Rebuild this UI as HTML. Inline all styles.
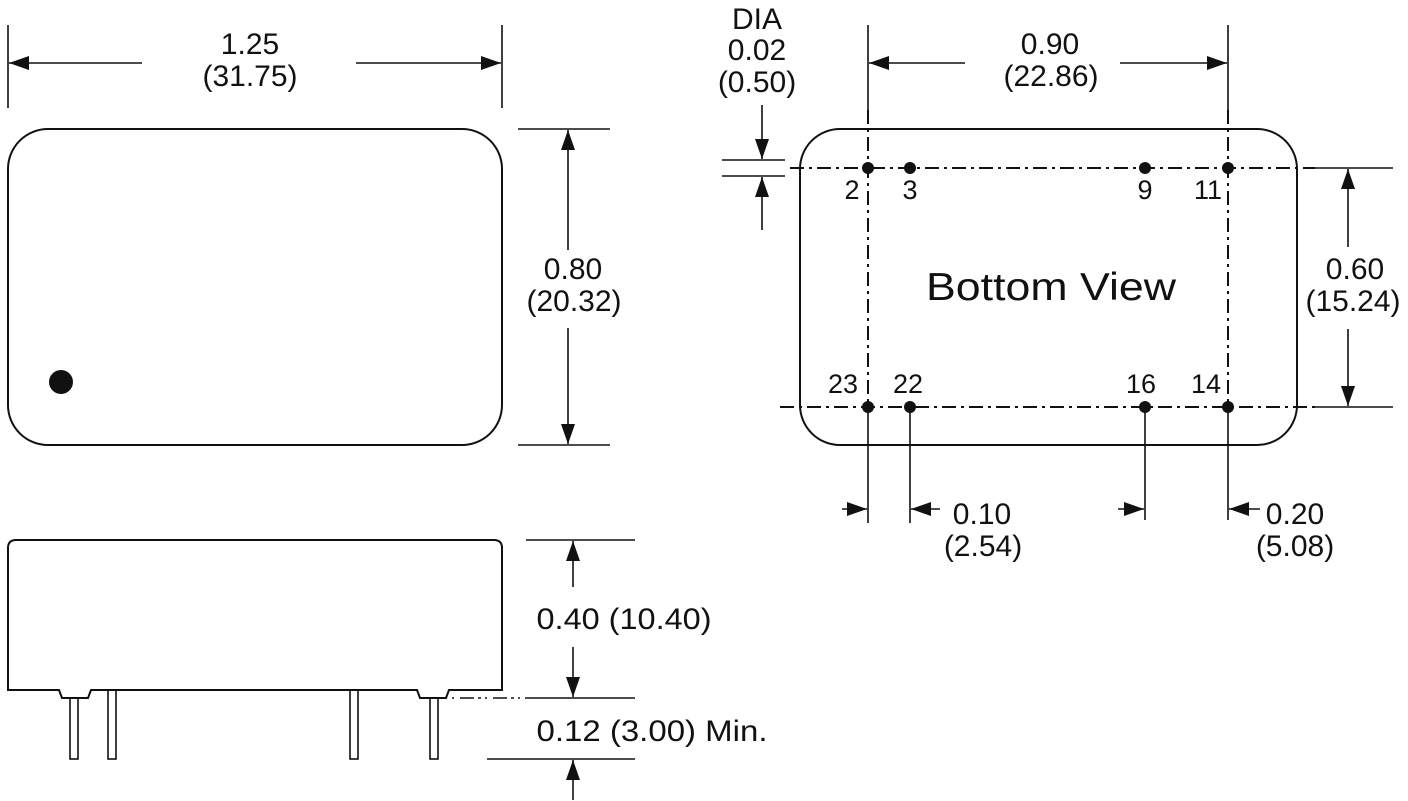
<!DOCTYPE html>
<html><head><meta charset="utf-8"><style>
html,body{margin:0;padding:0;background:#fff;}
svg{display:block;}
text{font-family:"Liberation Sans",sans-serif;fill:#111;}
</style></head><body>
<svg width="1408" height="801" viewBox="0 0 1408 801" xmlns="http://www.w3.org/2000/svg">
<defs>
<marker id="a" viewBox="0 0 20 14" refX="20" refY="7" markerWidth="20" markerHeight="14" markerUnits="userSpaceOnUse" orient="auto"><path d="M0,0 L20,7 L0,14 Z" fill="#111"/></marker>
</defs>
<g stroke="#111" stroke-width="1.6" fill="none">
<rect x="8" y="129" width="494" height="316" rx="40" stroke-width="2"/>
<line x1="8" y1="25" x2="8" y2="108"/>
<line x1="502" y1="25" x2="502" y2="108"/>
<line x1="142" y1="63" x2="9" y2="63" marker-end="url(#a)"/>
<line x1="356" y1="63" x2="501" y2="63" marker-end="url(#a)"/>
<line x1="518" y1="129" x2="610" y2="129"/>
<line x1="518" y1="445" x2="610" y2="445"/>
<line x1="568" y1="250" x2="568" y2="130" marker-end="url(#a)"/>
<line x1="568" y1="328" x2="568" y2="444" marker-end="url(#a)"/>
<rect x="800" y="129" width="497" height="316" rx="40" stroke-width="2"/>
<line x1="790" y1="168" x2="1315" y2="168" stroke-dasharray="14,5,3,5" stroke-width="2"/>
<line x1="1315" y1="168" x2="1393" y2="168"/>
<line x1="780" y1="407" x2="1315" y2="407" stroke-dasharray="14,5,3,5" stroke-width="2"/>
<line x1="1315" y1="407" x2="1393" y2="407"/>
<line x1="868" y1="25" x2="868" y2="110"/>
<line x1="1228" y1="25" x2="1228" y2="110"/>
<line x1="868" y1="110" x2="868" y2="407" stroke-dasharray="14,5,3,5" stroke-width="2"/>
<line x1="1228" y1="110" x2="1228" y2="407" stroke-dasharray="14,5,3,5" stroke-width="2"/>
<line x1="868" y1="407" x2="868" y2="523"/>
<line x1="910" y1="407" x2="910" y2="523"/>
<line x1="1145" y1="407" x2="1145" y2="520"/>
<line x1="1228" y1="407" x2="1228" y2="520"/>
<line x1="965" y1="63" x2="869" y2="63" marker-end="url(#a)"/>
<line x1="1120" y1="63" x2="1227" y2="63" marker-end="url(#a)"/>
<line x1="722" y1="160" x2="785" y2="160"/>
<line x1="722" y1="176" x2="785" y2="176"/>
<line x1="762" y1="105" x2="762" y2="159" marker-end="url(#a)"/>
<line x1="762" y1="230" x2="762" y2="177" marker-end="url(#a)"/>
<line x1="1348" y1="247" x2="1348" y2="169" marker-end="url(#a)"/>
<line x1="1348" y1="329" x2="1348" y2="406" marker-end="url(#a)"/>
<line x1="842" y1="509" x2="867" y2="509" marker-end="url(#a)"/>
<line x1="940" y1="509" x2="911" y2="509" marker-end="url(#a)"/>
<line x1="1118" y1="509" x2="1144" y2="509" marker-end="url(#a)"/>
<line x1="1260" y1="509" x2="1229" y2="509" marker-end="url(#a)"/>
<path d="M8,690 L8,548 Q8,540 16,540 L494,540 Q502,540 502,548 L502,690 L449,690 L446,698 L420,698 L417,690 L91,690 L88,698 L62,698 L59,690 Z" stroke-width="2"/>
<rect x="70" y="698" width="8" height="61"/>
<rect x="108" y="690" width="8" height="69"/>
<rect x="350" y="690" width="8" height="69"/>
<rect x="430" y="698" width="8" height="61"/>
<line x1="452" y1="698" x2="525" y2="698" stroke-dasharray="2,6,14,4,3,4"/>
<line x1="525" y1="698" x2="635" y2="698"/>
<line x1="526" y1="540" x2="635" y2="540"/>
<line x1="487" y1="759" x2="635" y2="759"/>
<line x1="573" y1="587" x2="573" y2="541" marker-end="url(#a)"/>
<line x1="573" y1="647" x2="573" y2="697" marker-end="url(#a)"/>
<line x1="573" y1="800" x2="573" y2="760" marker-end="url(#a)"/>
</g>
<g fill="#111">
<circle cx="61" cy="382" r="12"/>
<circle cx="868" cy="168" r="6"/><circle cx="910" cy="168" r="6"/><circle cx="1145" cy="168" r="6"/><circle cx="1228" cy="168" r="6"/>
<circle cx="868" cy="407" r="6"/><circle cx="910" cy="407" r="6"/><circle cx="1145" cy="407" r="6"/><circle cx="1228" cy="407" r="6"/>
</g>
<g font-size="30" text-anchor="middle">
<text x="250" y="54">1.25</text>
<text x="250" y="86">(31.75)</text>
<text x="573" y="279">0.80</text>
<text x="574" y="311">(20.32)</text>
<text x="757" y="29">DIA</text>
<text x="757" y="60">0.02</text>
<text x="757" y="92">(0.50)</text>
<text x="1050" y="54">0.90</text>
<text x="1051" y="86">(22.86)</text>
<text x="1355" y="279">0.60</text>
<text x="1353" y="311">(15.24)</text>
<text x="982" y="524">0.10</text>
<text x="983" y="556">(2.54)</text>
<text x="1295" y="524">0.20</text>
<text x="1295" y="556">(5.08)</text>
<text x="624" y="629" textLength="175" lengthAdjust="spacingAndGlyphs">0.40 (10.40)</text>
<text x="652" y="741" textLength="231" lengthAdjust="spacingAndGlyphs">0.12 (3.00) Min.</text>
</g>
<g font-size="27" text-anchor="middle">
<text x="852" y="199">2</text>
<text x="910" y="199">3</text>
<text x="1145" y="199">9</text>
<text x="1208" y="199">11</text>
<text x="843" y="393">23</text>
<text x="908" y="393">22</text>
<text x="1141" y="393">16</text>
<text x="1206" y="393">14</text>
</g>
<text x="926" y="300" font-size="39" textLength="250" lengthAdjust="spacingAndGlyphs">Bottom View</text>
</svg>
</body></html>
